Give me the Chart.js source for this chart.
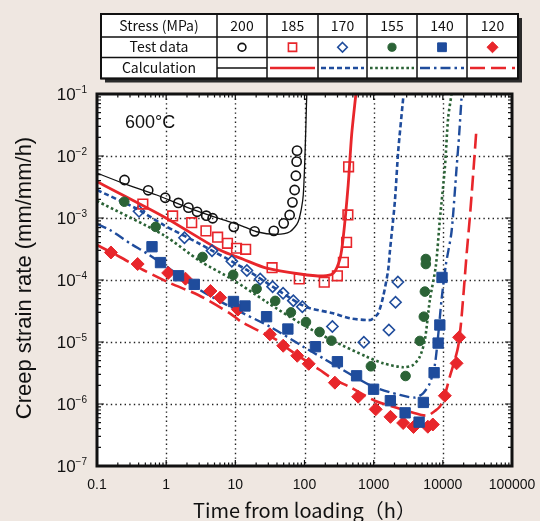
<!DOCTYPE html>
<html>
<head>
<meta charset="utf-8">
<script src="https://cdn.jsdelivr.net/npm/chart.js@4.4.1/dist/chart.umd.min.js"></script>
<style>
  html, body { margin: 0; padding: 0; background: #efe7e1; }
  #wrap { width: 540px; height: 521px; }
</style>
</head>
<body>
<div id="wrap"><canvas id="creep" width="540" height="521"></canvas></div>
<script>
// stress levels (MPa) shown in the legend table
var stresses = ["200", "185", "170", "155", "140", "120"];

// test data: time (h) and creep strain rate (mm/mm/h)
var t200 = [0.25, 0.55, 0.97, 1.5, 2.1, 2.8, 3.8, 4.7, 9.5, 19, 36, 50, 61, 67, 72, 75, 77, 78];
var r200 = [4.1e-3, 2.8e-3, 2.12e-3, 1.75e-3, 1.47e-3, 1.26e-3, 1.09e-3, 9.9e-4, 7.2e-4, 6.1e-4, 6.2e-4, 8.2e-4, 1.12e-3, 1.79e-3, 2.83e-3, 4.8e-3, 8.1e-3, 1.22e-2];

var t185 = [0.46, 1.24, 2.34, 3.76, 5.55, 7.7, 10.4, 14.1, 34, 84, 193, 299, 365, 406, 424, 434];
var r185 = [1.68e-3, 1.08e-3, 8.4e-4, 6.2e-4, 4.9e-4, 3.9e-4, 3.25e-4, 3.13e-4, 1.58e-4, 1.04e-4, 9.2e-5, 1.17e-4, 1.93e-4, 4.06e-4, 1.12e-3, 6.7e-3];

var t170 = [0.405, 1.84, 4.6, 8.9, 14.7, 22.9, 34.6, 49, 69, 93, 253, 721, 1660, 2070, 2240];
var r170 = [1.28e-3, 4.8e-4, 2.97e-4, 2.01e-4, 1.42e-4, 1.04e-4, 7.8e-5, 6.1e-5, 4.64e-5, 3.71e-5, 1.78e-5, 9.9e-6, 1.56e-5, 4.37e-5, 9.3e-5];

var t155 = [0.248, 0.705, 3.35, 9.3, 20.3, 37.7, 63.6, 105, 165, 245, 912, 2890, 4650, 5310, 5500, 5680, 5680];
var r155 = [1.83e-3, 7.2e-4, 2.35e-4, 1.21e-4, 7.2e-5, 4.6e-5, 3.0e-5, 2.1e-5, 1.45e-5, 1.05e-5, 4.06e-6, 2.83e-6, 1.04e-5, 2.56e-5, 6.5e-5, 1.81e-4, 2.18e-4];

var t140 = [0.624, 0.828, 1.51, 2.55, 9.4, 13.8, 28.3, 57.5, 144, 299, 566, 997, 1743, 2850, 4540, 5230, 7480, 8550, 9050, 9730];
var r140 = [3.44e-4, 1.91e-4, 1.17e-4, 8.5e-5, 4.5e-5, 3.81e-5, 2.56e-5, 1.62e-5, 8.4e-6, 4.81e-6, 2.85e-6, 1.73e-6, 1.13e-6, 7.2e-7, 5.1e-7, 1.06e-6, 3.2e-6, 9.6e-6, 1.88e-5, 1.1e-4];

var t120 = [0.159, 0.387, 1.07, 1.9, 4.37, 6.03, 10.9, 31.6, 49.2, 78.5, 115, 275, 597, 1070, 1750, 2670, 3770, 6070, 7170, 10690, 15780, 17200];
var r120 = [2.78e-4, 1.81e-4, 1.3e-4, 1.05e-4, 6.65e-5, 5.2e-5, 3.34e-5, 1.33e-5, 8.7e-6, 6.0e-6, 4.45e-6, 2.21e-6, 1.31e-6, 8.2e-7, 6.2e-7, 4.94e-7, 4.26e-7, 4.3e-7, 4.67e-7, 1.36e-6, 4.53e-6, 1.19e-5];

// calculated curves
var ct200 = [0.1, 0.24, 0.73, 2.2, 6.7, 11.6, 20.3, 39.5, 61.5, 81, 96, 108];
var cr200 = [5.3e-3, 3.63e-3, 2.35e-3, 1.43e-3, 9.3e-4, 7.7e-4, 6.0e-4, 5.46e-4, 6.0e-4, 8.7e-4, 2.35e-3, 1e-1];

var ct185 = [0.1, 0.92, 6.0, 13, 28.3, 86, 186, 260, 325, 362, 428, 480, 553];
var cr185 = [3.85e-3, 1.05e-3, 3.05e-4, 2.16e-4, 1.55e-4, 1.25e-4, 1.16e-4, 1.28e-4, 2.18e-4, 4.7e-4, 3.4e-3, 2.18e-2, 1e-1];

var ct170 = [0.1, 0.379, 0.92, 3.08, 14.7, 34.6, 86, 120, 260, 453, 789, 933, 1161, 1371, 1621, 1714, 2024, 2260, 2670];
var cr170 = [2.83e-3, 1.4e-3, 7.7e-4, 3.81e-4, 1.45e-4, 7.8e-5, 4.1e-5, 3.5e-5, 2.9e-5, 2.41e-5, 2.26e-5, 2.3e-5, 2.9e-5, 5.4e-5, 1.45e-4, 2.86e-4, 1.83e-3, 1.17e-2, 8.5e-2];

var ct155 = [0.1, 0.92, 3.08, 9.33, 28.3, 86, 260, 789, 1371, 2670, 3720, 4650, 5500, 6490, 7920, 9050, 10690, 11930, 13360];
var cr155 = [1.88e-3, 5.3e-4, 2.02e-4, 1.0e-4, 4.42e-5, 2.02e-5, 1.04e-5, 5.8e-6, 4.53e-6, 3.91e-6, 4.26e-6, 5.8e-6, 1.08e-5, 4.75e-5, 1.68e-4, 9.3e-4, 6.4e-3, 4.1e-2, 1e-1];

var ct140 = [0.1, 0.154, 0.3, 0.523, 1.02, 3.08, 10.4, 31.6, 96, 186, 453, 984, 2390, 3940, 5190, 6490, 7660, 8550, 9570, 11050, 13360, 15780, 17200, 18620];
var cr140 = [8.0e-4, 6.4e-4, 3.9e-4, 2.7e-4, 1.64e-4, 6.9e-5, 3.28e-5, 1.77e-5, 8.4e-6, 5.46e-6, 3.05e-6, 1.9e-6, 1.4e-6, 1.27e-6, 1.49e-6, 2.16e-6, 4.26e-6, 1.25e-5, 4.75e-5, 1.75e-4, 6.0e-4, 6.3e-3, 2.18e-2, 8.5e-2];

var ct120 = [0.1, 0.138, 0.215, 0.467, 1.13, 2.91, 8.36, 12.3, 39.5, 61.5, 167, 260, 453, 1040, 2530, 4920, 6130, 7660, 9050, 10690, 12620, 14900, 16630, 18200, 20100, 22200, 24550, 27400, 30700];
var cr120 = [3.67e-4, 3.05e-4, 2.35e-4, 1.45e-4, 8.95e-5, 5.73e-5, 2.9e-5, 2.1e-5, 1.08e-5, 7.4e-6, 3.53e-6, 2.53e-6, 1.88e-6, 1.13e-6, 8.2e-7, 6.65e-7, 6.53e-7, 7.7e-7, 9.05e-7, 1.4e-6, 2.76e-6, 5.13e-6, 8.4e-6, 1.88e-5, 6.9e-5, 2.83e-4, 1.0e-3, 4.94e-3, 2.83e-2];

// axis ticks
var xTickValues = [0.1, 1, 10, 100, 1000, 10000, 100000];
var xTickLabels = ["0.1", "1", "10", "100", "1000", "10000", "100000"];
var yTickExponents = [-1, -2, -3, -4, -5, -6, -7];

var RED = "#e8262b", BLUE = "#1f4c9c", GREEN = "#2b6336", BLACK = "#111";

function pts(xs, ys) {
  return xs.map(function (x, i) { return { x: x, y: ys[i] }; });
}

// style per stress: marker + calculated line
var styles = [
  { color: BLACK, marker: "circle", filled: false, r: 4.6, lw: 1.3, dash: [] },
  { color: RED, marker: "rect", filled: false, r: 6.8, lw: 2.8, dash: [] },
  { color: BLUE, marker: "rectRot", filled: false, r: 5.6, lw: 2.6, dash: [5, 3] },
  { color: GREEN, marker: "circle", filled: true, r: 4.8, lw: 2.6, dash: [2.6, 2.6] },
  { color: BLUE, marker: "rect", filled: true, r: 7.3, lw: 2.4, dash: [10, 4, 2.5, 4] },
  { color: RED, marker: "rectRot", filled: true, r: 6.5, lw: 2.6, dash: [15, 6] }
];

var testData = [pts(t200, r200), pts(t185, r185), pts(t170, r170), pts(t155, r155), pts(t140, r140), pts(t120, r120)];
var calcData = [pts(ct200, cr200), pts(ct185, cr185), pts(ct170, cr170), pts(ct155, cr155), pts(ct140, cr140), pts(ct120, cr120)];

var datasets = [];
stresses.forEach(function (s, i) {
  var st = styles[i];
  datasets.push({
    label: "Calculation " + s,
    data: calcData[i],
    showLine: true,
    borderColor: st.color,
    borderWidth: st.lw,
    borderDash: st.dash,
    pointRadius: 0,
    tension: 0.25,
    fill: false,
    order: 2
  });
  datasets.push({
    label: "Test data " + s,
    data: testData[i],
    showLine: false,
    pointStyle: st.marker,
    pointRadius: st.r,
    pointBorderWidth: st.filled ? 1 : 1.6,
    pointBorderColor: st.color,
    pointBackgroundColor: st.filled ? st.color : "rgba(255,255,255,0)",
    order: 1
  });
});

function drawMarker(ctx, st, x, y) {
  var r = st.r;
  ctx.save();
  ctx.beginPath();
  if (st.marker === "circle") {
    ctx.arc(x, y, r, 0, Math.PI * 2);
  } else if (st.marker === "rect") {
    var h = r * Math.SQRT1_2;
    ctx.rect(x - h, y - h, 2 * h, 2 * h);
  } else {
    ctx.moveTo(x, y - r); ctx.lineTo(x + r, y); ctx.lineTo(x, y + r); ctx.lineTo(x - r, y); ctx.closePath();
  }
  if (st.filled) { ctx.fillStyle = st.color; ctx.fill(); }
  ctx.lineWidth = st.filled ? 1 : 1.6;
  ctx.strokeStyle = st.color;
  ctx.stroke();
  ctx.restore();
}

var frame = {
  id: "frame",
  beforeDraw: function (chart) {
    var ctx = chart.ctx, a = chart.chartArea;
    ctx.save();
    ctx.fillStyle = "#efe7e1";
    ctx.fillRect(0, 0, chart.width, chart.height);
    ctx.fillStyle = "#fff";
    ctx.fillRect(a.left, a.top, a.right - a.left, a.bottom - a.top);
    ctx.restore();
  },
  beforeDatasetsDraw: function (chart) {
    var ctx = chart.ctx, a = chart.chartArea;
    var xs = chart.scales.x, ys = chart.scales.y;
    ctx.save();
    ctx.strokeStyle = "#222";
    ctx.lineWidth = 1.4;
    ctx.setLineDash([1.4, 3.2]);
    xTickValues.slice(1, -1).forEach(function (v) {
      var px = Math.round(xs.getPixelForValue(v)) + 0.5;
      ctx.beginPath(); ctx.moveTo(px, a.top); ctx.lineTo(px, a.bottom); ctx.stroke();
    });
    yTickExponents.slice(1, -1).forEach(function (e) {
      var py = Math.round(ys.getPixelForValue(Math.pow(10, e))) + 0.5;
      ctx.beginPath(); ctx.moveTo(a.left, py); ctx.lineTo(a.right, py); ctx.stroke();
    });
    ctx.restore();
  },
  afterDatasetsDraw: function (chart) {
    var ctx = chart.ctx, a = chart.chartArea;
    var xs = chart.scales.x, ys = chart.scales.y;
    ctx.save();
    // inward tick marks on all four sides
    ctx.strokeStyle = "#111";
    ctx.lineWidth = 1.2;
    var d, m, px, py, len;
    for (d = -1; d < 5; d++) {
      for (m = 1; m < 10; m++) {
        px = xs.getPixelForValue(m * Math.pow(10, d));
        len = m === 1 ? 6 : 3.5;
        ctx.beginPath();
        ctx.moveTo(px, a.bottom); ctx.lineTo(px, a.bottom - len);
        ctx.moveTo(px, a.top); ctx.lineTo(px, a.top + len);
        ctx.stroke();
      }
    }
    for (d = -7; d < -1; d++) {
      for (m = 1; m < 10; m++) {
        py = ys.getPixelForValue(m * Math.pow(10, d));
        len = m === 1 ? 7 : 4;
        ctx.beginPath();
        ctx.moveTo(a.left, py); ctx.lineTo(a.left + len, py);
        ctx.moveTo(a.right, py); ctx.lineTo(a.right - len, py);
        ctx.stroke();
      }
    }
    // frame
    ctx.lineWidth = 3;
    ctx.strokeStyle = "#111";
    ctx.strokeRect(a.left, a.top, a.right - a.left, a.bottom - a.top);

    // tick labels
    ctx.fillStyle = "#111";
    ctx.textAlign = "center";
    ctx.textBaseline = "alphabetic";
    ctx.font = "14px 'Liberation Sans', Arial, sans-serif";
    xTickValues.forEach(function (v, i) {
      ctx.fillText(xTickLabels[i], xs.getPixelForValue(v), a.bottom + 23);
    });
    yTickExponents.forEach(function (e) {
      var y = ys.getPixelForValue(Math.pow(10, e));
      ctx.textAlign = "right";
      ctx.font = "10px 'Liberation Sans', Arial, sans-serif";
      var expTxt = "\u2212" + Math.abs(e);
      var ew = ctx.measureText(expTxt).width;
      ctx.fillText(expTxt, 87, y - 1);
      ctx.font = "17px 'Liberation Sans', Arial, sans-serif";
      ctx.fillText("10", 87 - ew, y + 6);
    });

    // axis titles
    ctx.textAlign = "center";
    ctx.font = "20px 'Noto Sans CJK JP', sans-serif";
    ctx.fillText("Time from loading\uFF08h\uFF09", (a.left + a.right) / 2, 518);
    ctx.save();
    ctx.translate(31, (a.top + a.bottom) / 2 - 2);
    ctx.rotate(-Math.PI / 2);
    ctx.font = "22px 'Liberation Sans', Arial, sans-serif";
    ctx.fillText("Creep strain rate (mm/mm/h)", 0, 0);
    ctx.restore();

    // temperature note
    ctx.textAlign = "left";
    ctx.font = "18px 'Liberation Sans', Arial, sans-serif";
    ctx.fillText("600\u00B0C", 125, 128);

    // legend table
    var cols = [101, 217, 267, 318, 367, 417, 467, 518];
    var rows = [14, 37, 57.5, 78.5];
    ctx.fillStyle = "#2a2a2a";
    ctx.fillRect(cols[0] + 4, rows[0] + 4, cols[7] - cols[0], rows[3] - rows[0]);
    ctx.fillStyle = "#fff";
    ctx.fillRect(cols[0], rows[0], cols[7] - cols[0], rows[3] - rows[0]);
    ctx.strokeStyle = "#111";
    ctx.lineWidth = 1.5;
    ctx.beginPath();
    cols.forEach(function (c) { ctx.moveTo(c, rows[0]); ctx.lineTo(c, rows[3]); });
    rows.forEach(function (r) { ctx.moveTo(cols[0], r); ctx.lineTo(cols[7], r); });
    ctx.stroke();
    ctx.lineWidth = 2;
    ctx.strokeRect(cols[0], rows[0], cols[7] - cols[0], rows[3] - rows[0]);

    ctx.fillStyle = "#111";
    ctx.textAlign = "center";
    ctx.font = "14px 'Noto Sans CJK JP', sans-serif";
    var rowText = ["Stress (MPa)", "Test data", "Calculation"];
    rowText.forEach(function (t, j) {
      ctx.fillText(t, (cols[0] + cols[1]) / 2, (rows[j] + rows[j + 1]) / 2 + 5);
    });
    stresses.forEach(function (s, i) {
      var cx = (cols[i + 1] + cols[i + 2]) / 2;
      ctx.fillStyle = "#111";
      ctx.fillText(s, cx, (rows[0] + rows[1]) / 2 + 5);
      var st = styles[i];
      var mst = { color: st.color, marker: st.marker, filled: st.filled, r: st.r * 0.85 };
      drawMarker(ctx, mst, cx, (rows[1] + rows[2]) / 2);
      var ly = (rows[2] + rows[3]) / 2;
      ctx.save();
      ctx.strokeStyle = st.color;
      ctx.lineWidth = i === 0 ? 1.3 : 2.4;
      ctx.setLineDash(st.dash);
      ctx.beginPath();
      ctx.moveTo(cols[i + 1] + (i === 0 ? 0 : 3), ly);
      ctx.lineTo(cols[i + 2] - (i === 0 ? 0 : 3), ly);
      ctx.stroke();
      ctx.restore();
    });
    ctx.restore();
  }
};

var ctx = document.getElementById("creep").getContext("2d");
var creepChart = new Chart(ctx, {
  type: "scatter",
  data: { datasets: datasets },
  options: {
    responsive: false,
    animation: false,
    layout: { padding: { top: 94, right: 28, bottom: 0, left: 0 } },
    plugins: { legend: { display: false }, tooltip: { enabled: false } },
    scales: {
      x: {
        type: "logarithmic",
        min: 0.1,
        max: 100000,
        grid: { display: false },
        border: { display: false },
        ticks: { display: false },
        afterFit: function (s) { s.height = 55; }
      },
      y: {
        type: "logarithmic",
        min: 1e-7,
        max: 1e-1,
        grid: { display: false },
        border: { display: false },
        ticks: { display: false },
        afterFit: function (s) { s.width = 97; }
      }
    }
  },
  plugins: [frame]
});
</script>
</body>
</html>
